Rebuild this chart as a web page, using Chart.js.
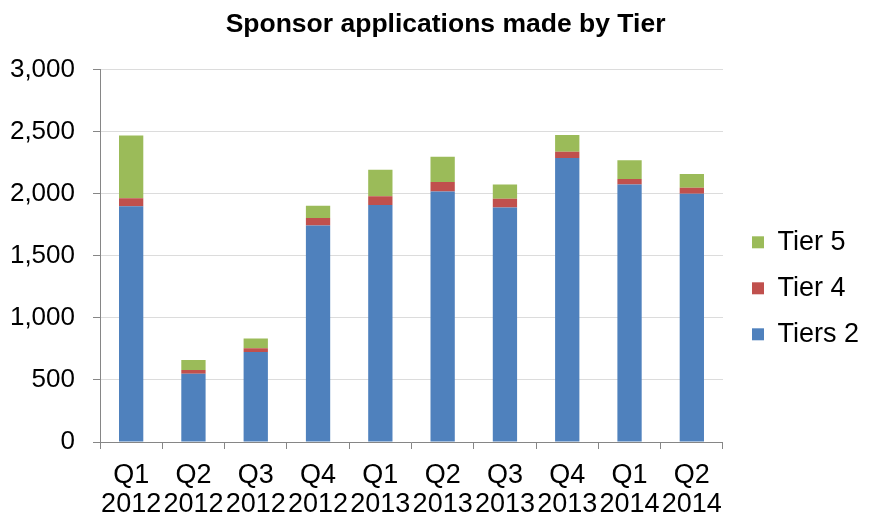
<!DOCTYPE html>
<html>
<head>
<meta charset="utf-8">
<script src="https://cdn.jsdelivr.net/npm/chart.js@4.4.0/dist/chart.umd.min.js"></script>
<style>
    body { margin: 0; background: #fff; }
</style>
</head>
<body>
<canvas id="tier_chart" width="869" height="521"></canvas>
<script>
const quarters = [
    ["Q1", "2012"], ["Q2", "2012"], ["Q3", "2012"], ["Q4", "2012"],
    ["Q1", "2013"], ["Q2", "2013"], ["Q3", "2013"], ["Q4", "2013"],
    ["Q1", "2014"], ["Q2", "2014"]
];
const tiers2 = [1900, 550, 725, 1745, 1910, 2020, 1890, 2290, 2075, 2000];
const tier4 = [65, 30, 30, 60, 70, 75, 70, 50, 45, 50];
const tier5 = [505, 80, 80, 100, 215, 205, 115, 135, 150, 110];

const tier_chart = document.getElementById("tier_chart");

Chart.defaults.font.family = "'Liberation Sans', Arial, sans-serif";
Chart.defaults.color = "#000";

new Chart(tier_chart, {
    type: "bar",
    data: {
        labels: quarters,
        datasets: [
            { label: "Tiers 2", data: tiers2, backgroundColor: "#4f81bd" },
            { label: "Tier 4", data: tier4, backgroundColor: "#c0504d" },
            { label: "Tier 5", data: tier5, backgroundColor: "#9bbb59" },
        ],
    },
    options: {
        responsive: false,
        animation: false,
        layout: { padding: 0 },
        datasets: {
            bar: { barPercentage: 0.39, categoryPercentage: 1 },
        },
        plugins: {
            title: {
                display: true,
                // leading spaces nudge the centred title a little to the right
                text: "   Sponsor applications made by Tier",
                font: { size: 26.5, weight: "bold" },
                padding: { top: 9, bottom: 29 },
            },
            legend: {
                position: "right",
                reverse: true,
                // empty title only pushes the entries down a bit
                title: { display: true, text: " ", font: { size: 13 }, padding: { top: 40, bottom: 0 } },
                labels: {
                    boxWidth: 12,
                    boxHeight: 12,
                    padding: 19,
                    font: { size: 27 },
                },
            },
            tooltip: { enabled: false },
        },
        scales: {
            x: {
                stacked: true,
                afterFit: (scale) => { scale.height = 79; },
                grid: {
                    offset: true,
                    drawOnChartArea: false,
                    tickLength: 7,
                    color: "#868686",
                },
                border: { color: "#868686" },
                ticks: {
                    maxRotation: 0,
                    autoSkip: false,
                    padding: 12,
                    font: { size: 27, lineHeight: 1.08 },
                },
            },
            y: {
                stacked: true,
                min: 0,
                max: 3000,
                afterFit: (scale) => { scale.width = 100; },
                grid: {
                    color: "#dcdcdc",
                    tickColor: "#868686",
                    tickLength: 7,
                },
                border: { color: "#868686" },
                ticks: {
                    stepSize: 500,
                    padding: 18,
                    font: { size: 26 },
                },
            },
            // spacer between the plot and the legend
            gap: {
                position: "right",
                display: true,
                afterFit: (scale) => { scale.width = 10; },
                grid: { display: false },
                border: { display: false },
                ticks: { display: false },
            },
        },
    },
});
</script>
</body>
</html>
